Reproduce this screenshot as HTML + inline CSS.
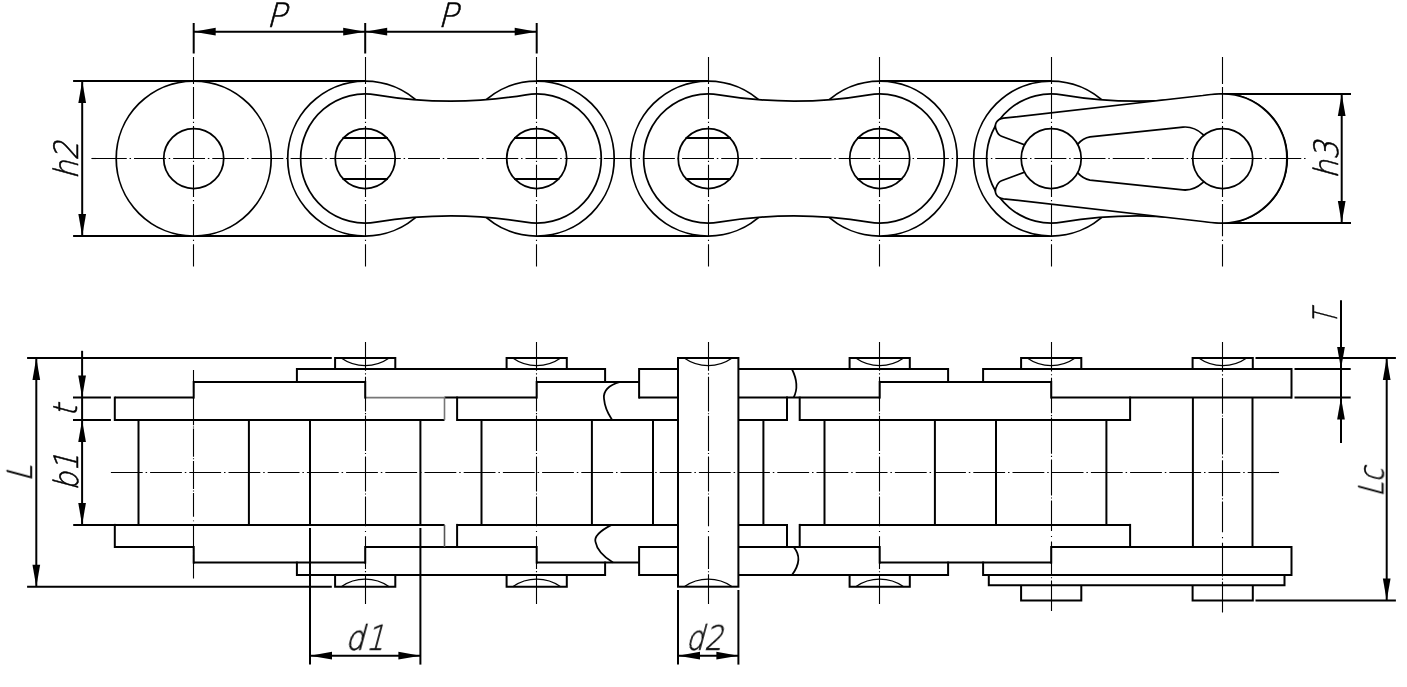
<!DOCTYPE html>
<html lang="en"><head><meta charset="utf-8"><title>Roller chain dimensions</title>
<style>
html,body{margin:0;padding:0;background:#fff;}
body{width:1407px;height:687px;overflow:hidden;font-family:"Liberation Sans",sans-serif;}
svg{display:block;}
</style></head><body>
<svg width="1407" height="687" viewBox="0 0 1407 687">
<rect width="1407" height="687" fill="#fff"/>
<g id="topview" stroke="#000" fill="none">
<line x1="73.1" y1="81" x2="365.2" y2="81" stroke-width="2.0" />
<line x1="73.1" y1="236" x2="365.2" y2="236" stroke-width="2.0" />
<line x1="536.7" y1="81" x2="708.2" y2="81" stroke-width="2.0" />
<line x1="536.7" y1="236" x2="708.2" y2="236" stroke-width="2.0" />
<line x1="879.7" y1="81" x2="1051.2" y2="81" stroke-width="2.0" />
<line x1="879.7" y1="236" x2="1051.2" y2="236" stroke-width="2.0" />
<line x1="1222.7" y1="94" x2="1351" y2="94" stroke-width="2.0" />
<line x1="1222.7" y1="223" x2="1351" y2="223" stroke-width="2.0" />
<circle cx="193.7" cy="158.5" r="77.5" stroke-width="1.75" fill="#fff"/>
<circle cx="193.7" cy="158.5" r="30" stroke-width="1.75" fill="#fff"/>
<circle cx="365.2" cy="158.5" r="77.5" stroke-width="1.75" fill="#fff"/>
<circle cx="536.7" cy="158.5" r="77.5" stroke-width="1.75" fill="#fff"/>
<circle cx="708.2" cy="158.5" r="77.5" stroke-width="1.75" fill="#fff"/>
<circle cx="879.7" cy="158.5" r="77.5" stroke-width="1.75" fill="#fff"/>
<circle cx="1051.2" cy="158.5" r="77.5" stroke-width="1.75" fill="#fff"/>
<path d="M375.97,94.8 A449.63,449.63 0 0 0 525.93,94.8 A64.6,64.6 0 1 1 525.93,222.2 A449.63,449.63 0 0 0 375.97,222.2 A64.6,64.6 0 1 1 375.97,94.8 Z" stroke-width="1.75" fill="#fff" />
<path d="M718.97,94.8 A449.63,449.63 0 0 0 868.93,94.8 A64.6,64.6 0 1 1 868.93,222.2 A449.63,449.63 0 0 0 718.97,222.2 A64.6,64.6 0 1 1 718.97,94.8 Z" stroke-width="1.75" fill="#fff" />
<path d="M1061.97,94.8 A449.63,449.63 0 0 0 1211.93,94.8 A64.6,64.6 0 1 1 1211.93,222.2 A449.63,449.63 0 0 0 1061.97,222.2 A64.6,64.6 0 1 1 1061.97,94.8 Z" stroke-width="1.75" fill="#fff" />
<circle cx="365.2" cy="158.5" r="30" stroke-width="1.75" fill="#fff"/>
<line x1="342.5" y1="138" x2="387.9" y2="138" stroke-width="2" />
<line x1="342.5" y1="179" x2="387.9" y2="179" stroke-width="2" />
<circle cx="536.7" cy="158.5" r="30" stroke-width="1.75" fill="#fff"/>
<line x1="514" y1="138" x2="559.4" y2="138" stroke-width="2" />
<line x1="514" y1="179" x2="559.4" y2="179" stroke-width="2" />
<circle cx="708.2" cy="158.5" r="30" stroke-width="1.75" fill="#fff"/>
<line x1="685.5" y1="138" x2="730.9" y2="138" stroke-width="2" />
<line x1="685.5" y1="179" x2="730.9" y2="179" stroke-width="2" />
<circle cx="879.7" cy="158.5" r="30" stroke-width="1.75" fill="#fff"/>
<line x1="857" y1="138" x2="902.4" y2="138" stroke-width="2" />
<line x1="857" y1="179" x2="902.4" y2="179" stroke-width="2" />
<path d="M1218.7,94 Q1210.7,94.2 1202.7,95.5 L1003.5,118.2 C996.5,119.2 993.8,124.5 996.3,130 C997.3,132.8 998.6,135.2 1001.5,136.3 L1030,146.8 L1072,147 L1077.6,144.3 C1080.5,141 1083.5,137.9 1090,136.9 L1183,127.1 C1191,126.4 1197,129 1202.8,134.3 L1208,140 L1208,177 L1202.8,182.7 C1197,188 1191,190.6 1183,189.9 L1090,180.1 C1083.5,179.1 1080.5,176 1077.6,172.7 L1072,170 L1030,170.2 L1001.5,180.7 C998.6,181.8 997.3,184.2 996.3,187 C993.8,192.5 996.5,197.8 1003.5,198.8 L1202.7,221.5 Q1210.7,222.8 1218.7,223 A64.6,64.6 0 1 0 1218.7,94 Z" stroke-width="1.75" fill="#fff" />
<circle cx="1051.2" cy="158.5" r="30" stroke-width="1.75" fill="#fff"/>
<circle cx="1222.7" cy="158.5" r="30" stroke-width="1.75" fill="#fff"/>
</g>
<g id="cl" stroke="#000" fill="none" stroke-width="1.1">
<line x1="91.4" y1="158.5" x2="96" y2="158.5"/>
<line x1="94.85" y1="158.5" x2="1307" y2="158.5" stroke-dasharray="31.9 2.8 1.5 2.95"/>
<path d="M193.5,57V84 M193.5,87.1V118.9 M193.5,121.8V123.1 M193.5,126V158.4 M193.5,160.7V162 M193.5,164.8V197.1 M193.5,200V201.3 M193.5,204.1V236.3 M193.5,239.8V241.1 M193.5,244.2V266.5"/>
<path d="M365.5,57V84 M365.5,87.1V118.9 M365.5,121.8V123.1 M365.5,126V158.4 M365.5,160.7V162 M365.5,164.8V197.1 M365.5,200V201.3 M365.5,204.1V236.3 M365.5,239.8V241.1 M365.5,244.2V266.5"/>
<path d="M536.5,57V84 M536.5,87.1V118.9 M536.5,121.8V123.1 M536.5,126V158.4 M536.5,160.7V162 M536.5,164.8V197.1 M536.5,200V201.3 M536.5,204.1V236.3 M536.5,239.8V241.1 M536.5,244.2V266.5"/>
<path d="M708.5,57V84 M708.5,87.1V118.9 M708.5,121.8V123.1 M708.5,126V158.4 M708.5,160.7V162 M708.5,164.8V197.1 M708.5,200V201.3 M708.5,204.1V236.3 M708.5,239.8V241.1 M708.5,244.2V266.5"/>
<path d="M879.5,57V84 M879.5,87.1V118.9 M879.5,121.8V123.1 M879.5,126V158.4 M879.5,160.7V162 M879.5,164.8V197.1 M879.5,200V201.3 M879.5,204.1V236.3 M879.5,239.8V241.1 M879.5,244.2V266.5"/>
<path d="M1051.5,57V84 M1051.5,87.1V118.9 M1051.5,121.8V123.1 M1051.5,126V158.4 M1051.5,160.7V162 M1051.5,164.8V197.1 M1051.5,200V201.3 M1051.5,204.1V236.3 M1051.5,239.8V241.1 M1051.5,244.2V266.5"/>
<path d="M1222.5,57V84 M1222.5,87.1V118.9 M1222.5,121.8V123.1 M1222.5,126V158.4 M1222.5,160.7V162 M1222.5,164.8V197.1 M1222.5,200V201.3 M1222.5,204.1V236.3 M1222.5,239.8V241.1 M1222.5,244.2V266.5"/>
</g>
<g id="dims" stroke="#000" fill="none">
<line x1="193.7" y1="23" x2="193.7" y2="53.5" stroke-width="2.0" />
<line x1="365.2" y1="23" x2="365.2" y2="53.5" stroke-width="2.0" />
<line x1="536.7" y1="23" x2="536.7" y2="53.5" stroke-width="2.0" />
<line x1="193.7" y1="31.7" x2="536.7" y2="31.7" stroke-width="2.0" />
<polygon points="193.7,31.7 215.7,27.85 215.7,35.55" fill="#000" stroke="none"/>
<polygon points="365.2,31.7 343.2,35.55 343.2,27.85" fill="#000" stroke="none"/>
<polygon points="365.2,31.7 387.2,27.85 387.2,35.55" fill="#000" stroke="none"/>
<polygon points="536.7,31.7 514.7,35.55 514.7,27.85" fill="#000" stroke="none"/>
<line x1="82.2" y1="81" x2="82.2" y2="236" stroke-width="2.0" />
<polygon points="82.2,81 86.05,103 78.35,103" fill="#000" stroke="none"/>
<polygon points="82.2,236 78.35,214 86.05,214" fill="#000" stroke="none"/>
<line x1="1341.7" y1="94" x2="1341.7" y2="223" stroke-width="2.0" />
<polygon points="1341.7,94 1345.55,116 1337.85,116" fill="#000" stroke="none"/>
<polygon points="1341.7,223 1337.85,201 1345.55,201" fill="#000" stroke="none"/>
</g>
<g id="bottom" stroke="#000" fill="none">
<path d="M335.1,369 V358 H395.3 V369" stroke-width="2.0" stroke-linejoin="miter"/>
<path d="M341.2,358 A41.7,41.7 0 0 0 389.2,358" stroke-width="1.3"/>
<path d="M335.1,575 V586.7 H395.3 V575" stroke-width="2.0" stroke-linejoin="miter"/>
<path d="M341.2,586.7 A41.7,41.7 0 0 1 389.2,586.7" stroke-width="1.3"/>
<path d="M506.6,369 V358 H566.8 V369" stroke-width="2.0" stroke-linejoin="miter"/>
<path d="M512.7,358 A41.7,41.7 0 0 0 560.7,358" stroke-width="1.3"/>
<path d="M506.6,575 V586.7 H566.8 V575" stroke-width="2.0" stroke-linejoin="miter"/>
<path d="M512.7,586.7 A41.7,41.7 0 0 1 560.7,586.7" stroke-width="1.3"/>
<path d="M849.6,369 V358 H909.8 V369" stroke-width="2.0" stroke-linejoin="miter"/>
<path d="M855.7,358 A41.7,41.7 0 0 0 903.7,358" stroke-width="1.3"/>
<path d="M849.6,575 V586.7 H909.8 V575" stroke-width="2.0" stroke-linejoin="miter"/>
<path d="M855.7,586.7 A41.7,41.7 0 0 1 903.7,586.7" stroke-width="1.3"/>
<path d="M1021.1,369 V358 H1081.3 V369" stroke-width="2.0" stroke-linejoin="miter"/>
<path d="M1027.2,358 A41.7,41.7 0 0 0 1075.2,358" stroke-width="1.3"/>
<path d="M1192.6,369 V358 H1252.8 V369" stroke-width="2.0" stroke-linejoin="miter"/>
<path d="M1198.7,358 A41.7,41.7 0 0 0 1246.7,358" stroke-width="1.3"/>
<rect x="678" y="358" width="60.4" height="228.70000000000005" stroke-width="2.0" fill="#fff"/>
<path d="M684.2,358 A41.7,41.7 0 0 0 732.2,358" stroke-width="1.3"/>
<path d="M684.2,586.7 A41.7,41.7 0 0 1 732.2,586.7" stroke-width="1.3"/>
<line x1="27.1" y1="358" x2="331.8" y2="358" stroke-width="2.0" />
<line x1="1255.5" y1="358" x2="1395.9" y2="358" stroke-width="2.0" />
<line x1="27.1" y1="586.7" x2="331.8" y2="586.7" stroke-width="2.0" />
<line x1="1255.5" y1="600.6" x2="1395.9" y2="600.6" stroke-width="2.0" />
<line x1="296.9" y1="369" x2="605.1" y2="369" stroke-width="2.0" />
<line x1="639.1" y1="369" x2="678" y2="369" stroke-width="2.0" />
<line x1="738.4" y1="369" x2="948.1" y2="369" stroke-width="2.0" />
<line x1="983.1" y1="369" x2="1291.5" y2="369" stroke-width="2.0" />
<line x1="1294.5" y1="369" x2="1350.7" y2="369" stroke-width="2.0" />
<line x1="296.9" y1="575" x2="605.1" y2="575" stroke-width="2.0" />
<line x1="639.1" y1="575" x2="678" y2="575" stroke-width="2.0" />
<line x1="738.4" y1="575" x2="948.1" y2="575" stroke-width="2.0" />
<line x1="983.1" y1="575" x2="1291.5" y2="575" stroke-width="2.0" />
<line x1="193.7" y1="381.9" x2="365.2" y2="381.9" stroke-width="2.0" />
<line x1="536.7" y1="381.9" x2="639.1" y2="381.9" stroke-width="2.0" />
<line x1="879.7" y1="381.9" x2="1051.2" y2="381.9" stroke-width="2.0" />
<line x1="193.7" y1="562.6" x2="365.2" y2="562.6" stroke-width="2.0" />
<line x1="536.7" y1="562.6" x2="639.1" y2="562.6" stroke-width="2.0" />
<line x1="879.7" y1="562.6" x2="1051.2" y2="562.6" stroke-width="2.0" />
<line x1="73" y1="397.6" x2="110.9" y2="397.6" stroke-width="2.0" />
<line x1="114.8" y1="397.6" x2="193.7" y2="397.6" stroke-width="2.0" />
<line x1="444.5" y1="397.6" x2="536.7" y2="397.6" stroke-width="2.0" />
<line x1="639.1" y1="397.6" x2="678" y2="397.6" stroke-width="2.0" />
<line x1="738.4" y1="397.6" x2="879.7" y2="397.6" stroke-width="2.0" />
<line x1="1051.2" y1="397.6" x2="1291.5" y2="397.6" stroke-width="2.0" />
<line x1="1294.5" y1="397.6" x2="1350.7" y2="397.6" stroke-width="2.0" />
<line x1="114.8" y1="547" x2="193.7" y2="547" stroke-width="2.0" />
<line x1="365.2" y1="547" x2="536.7" y2="547" stroke-width="2.0" />
<line x1="639.1" y1="547" x2="678" y2="547" stroke-width="2.0" />
<line x1="738.4" y1="547" x2="879.7" y2="547" stroke-width="2.0" />
<line x1="1051.2" y1="547" x2="1291.5" y2="547" stroke-width="2.0" />
<line x1="73" y1="420" x2="110.9" y2="420" stroke-width="2.0" />
<line x1="114.8" y1="420" x2="444.5" y2="420" stroke-width="2.0" />
<line x1="457.1" y1="420" x2="678" y2="420" stroke-width="2.0" />
<line x1="738.4" y1="420" x2="787" y2="420" stroke-width="2.0" />
<line x1="799.7" y1="420" x2="1130.1" y2="420" stroke-width="2.0" />
<line x1="73.2" y1="524.9" x2="444.5" y2="524.9" stroke-width="2.0" />
<line x1="457.1" y1="524.9" x2="678" y2="524.9" stroke-width="2.0" />
<line x1="738.4" y1="524.9" x2="787" y2="524.9" stroke-width="2.0" />
<line x1="799.7" y1="524.9" x2="1130.1" y2="524.9" stroke-width="2.0" />
<path d="M365.2,397.6 H444.5 V420" stroke="#777" stroke-width="1.6"/>
<path d="M444.5,524.9 V547" stroke="#555" stroke-width="1.6"/>
<line x1="114.8" y1="396.6" x2="114.8" y2="421" stroke-width="2.0" />
<line x1="114.8" y1="523.9" x2="114.8" y2="548" stroke-width="2.0" />
<line x1="193.7" y1="380.9" x2="193.7" y2="398.6" stroke-width="2.0" />
<line x1="193.7" y1="546" x2="193.7" y2="563.6" stroke-width="2.0" />
<line x1="296.9" y1="368" x2="296.9" y2="382.9" stroke-width="2.0" />
<line x1="296.9" y1="561.6" x2="296.9" y2="576" stroke-width="2.0" />
<line x1="365.2" y1="380.9" x2="365.2" y2="398.6" stroke-width="2.0" />
<line x1="365.2" y1="546" x2="365.2" y2="563.6" stroke-width="2.0" />
<line x1="457.1" y1="396.6" x2="457.1" y2="421" stroke-width="2.0" />
<line x1="457.1" y1="523.9" x2="457.1" y2="548" stroke-width="2.0" />
<line x1="536.7" y1="380.9" x2="536.7" y2="398.6" stroke-width="2.0" />
<line x1="536.7" y1="546" x2="536.7" y2="563.6" stroke-width="2.0" />
<line x1="605.1" y1="368" x2="605.1" y2="382.9" stroke-width="2.0" />
<line x1="605.1" y1="561.6" x2="605.1" y2="576" stroke-width="2.0" />
<line x1="639.1" y1="368" x2="639.1" y2="398.6" stroke-width="2.0" />
<line x1="639.1" y1="546" x2="639.1" y2="576" stroke-width="2.0" />
<line x1="787" y1="396.6" x2="787" y2="421" stroke-width="2.0" />
<line x1="787" y1="523.9" x2="787" y2="548" stroke-width="2.0" />
<line x1="799.7" y1="396.6" x2="799.7" y2="421" stroke-width="2.0" />
<line x1="799.7" y1="523.9" x2="799.7" y2="548" stroke-width="2.0" />
<line x1="879.7" y1="380.9" x2="879.7" y2="398.6" stroke-width="2.0" />
<line x1="879.7" y1="546" x2="879.7" y2="563.6" stroke-width="2.0" />
<line x1="948.1" y1="368" x2="948.1" y2="382.9" stroke-width="2.0" />
<line x1="948.1" y1="561.6" x2="948.1" y2="576" stroke-width="2.0" />
<line x1="983.1" y1="368" x2="983.1" y2="382.9" stroke-width="2.0" />
<line x1="983.1" y1="561.6" x2="983.1" y2="576" stroke-width="2.0" />
<line x1="1051.2" y1="380.9" x2="1051.2" y2="398.6" stroke-width="2.0" />
<line x1="1051.2" y1="546" x2="1051.2" y2="563.6" stroke-width="2.0" />
<line x1="1130.1" y1="396.6" x2="1130.1" y2="421" stroke-width="2.0" />
<line x1="1130.1" y1="523.9" x2="1130.1" y2="548" stroke-width="2.0" />
<line x1="1291.5" y1="368" x2="1291.5" y2="398.6" stroke-width="2.0" />
<line x1="1291.5" y1="546" x2="1291.5" y2="576" stroke-width="2.0" />
<line x1="138.5" y1="420" x2="138.5" y2="524.9" stroke-width="2.0" />
<line x1="248.9" y1="420" x2="248.9" y2="524.9" stroke-width="2.0" />
<line x1="310" y1="420" x2="310" y2="524.9" stroke-width="2.0" />
<line x1="420.4" y1="420" x2="420.4" y2="524.9" stroke-width="2.0" />
<line x1="481.5" y1="420" x2="481.5" y2="524.9" stroke-width="2.0" />
<line x1="591.9" y1="420" x2="591.9" y2="524.9" stroke-width="2.0" />
<line x1="653" y1="420" x2="653" y2="524.9" stroke-width="2.0" />
<line x1="763.4" y1="420" x2="763.4" y2="524.9" stroke-width="2.0" />
<line x1="824.5" y1="420" x2="824.5" y2="524.9" stroke-width="2.0" />
<line x1="934.9" y1="420" x2="934.9" y2="524.9" stroke-width="2.0" />
<line x1="996" y1="420" x2="996" y2="524.9" stroke-width="2.0" />
<line x1="1106.4" y1="420" x2="1106.4" y2="524.9" stroke-width="2.0" />
<line x1="1192.9" y1="397.6" x2="1192.9" y2="547" stroke-width="2.0" />
<line x1="1252.5" y1="397.6" x2="1252.5" y2="547" stroke-width="2.0" />
<path d="M988.8,575 V585.2 H1284.5 V575" stroke-width="2.0"/>
<path d="M1021.1,585.2 V600.6 H1081.3 V585.2" stroke-width="2.0"/>
<path d="M1192.6,585.2 V600.6 H1252.8 V585.2" stroke-width="2.0"/>
<path d="M620,381.9 C610,384.9 603,390.6 604,398.6 C605,410 609,415 612.3,420" stroke-width="1.75" fill="none" />
<path d="M611.5,524.9 C600,530.9 594,536.9 595.5,541.9 C597,550.6 605,557.6 613,562.6" stroke-width="1.75" fill="none" />
<path d="M791.9,369 Q800,385.3 793.6,397.6" stroke-width="1.75" fill="none" />
<path d="M793.6,547 Q804,559.0 791.9,575" stroke-width="1.75" fill="none" />
<line x1="310" y1="528" x2="310" y2="664.6" stroke-width="2.0" />
<line x1="420.4" y1="528" x2="420.4" y2="664.6" stroke-width="2.0" />
<line x1="678" y1="590" x2="678" y2="664.6" stroke-width="2.0" />
<line x1="738.4" y1="590" x2="738.4" y2="664.6" stroke-width="2.0" />
</g>
<g id="cl2" stroke="#000" fill="none" stroke-width="1.1">
<line x1="110.9" y1="472.5" x2="1279" y2="472.5" stroke-dasharray="31.8 2.9 1.5 3"/>
<path d="M193.5,370V392.79 M193.5,394.86V395.74 M193.5,397.65V425.3 M193.5,426.57V427.45 M193.5,428.56V456.69 M193.5,458.28V459.16 M193.5,461.07V488.96 M193.5,490.55V491.43 M193.5,492.94V516.69 M193.5,520.43V521.31 M193.5,524.74V550.79 M193.5,552.47V553.34 M193.5,554.94V578.6"/>
<path d="M365.5,342.1V370.7 M365.5,373.3V374.4 M365.5,376.8V411.5 M365.5,413.1V414.2 M365.5,415.6V450.9 M365.5,452.9V454 M365.5,456.4V491.4 M365.5,493.4V494.5 M365.5,496.4V526.2 M365.5,530.9V532 M365.5,536.3V569 M365.5,571.1V572.2 M365.5,574.2V603.9"/>
<path d="M536.5,342.1V370.7 M536.5,373.3V374.4 M536.5,376.8V411.5 M536.5,413.1V414.2 M536.5,415.6V450.9 M536.5,452.9V454 M536.5,456.4V491.4 M536.5,493.4V494.5 M536.5,496.4V526.2 M536.5,530.9V532 M536.5,536.3V569 M536.5,571.1V572.2 M536.5,574.2V603.9"/>
<path d="M708.5,342.1V370.71 M708.5,373.31V374.41 M708.5,376.81V411.53 M708.5,413.13V414.23 M708.5,415.63V450.94 M708.5,452.94V454.04 M708.5,456.44V491.46 M708.5,493.46V494.56 M708.5,496.46V526.27 M708.5,530.97V532.07 M708.5,536.37V569.09 M708.5,571.19V572.29 M708.5,574.29V604"/>
<path d="M879.5,342.1V370.71 M879.5,373.31V374.41 M879.5,376.81V411.53 M879.5,413.13V414.23 M879.5,415.63V450.94 M879.5,452.94V454.04 M879.5,456.44V491.46 M879.5,493.46V494.56 M879.5,496.46V526.27 M879.5,530.97V532.07 M879.5,536.37V569.09 M879.5,571.19V572.29 M879.5,574.29V604"/>
<path d="M1051.5,342.1V371.46 M1051.5,374.13V375.26 M1051.5,377.73V413.36 M1051.5,415V416.13 M1051.5,417.57V453.81 M1051.5,455.86V456.99 M1051.5,459.46V495.39 M1051.5,497.45V498.57 M1051.5,500.53V531.12 M1051.5,535.95V537.08 M1051.5,541.49V575.07 M1051.5,577.22V578.35 M1051.5,580.41V610.9"/>
<path d="M1222.5,342.1V371.64 M1222.5,374.32V375.46 M1222.5,377.94V413.78 M1222.5,415.43V416.57 M1222.5,418.01V454.47 M1222.5,456.54V457.68 M1222.5,460.15V496.3 M1222.5,498.37V499.51 M1222.5,501.47V532.25 M1222.5,537.1V538.24 M1222.5,542.68V576.45 M1222.5,578.62V579.76 M1222.5,581.82V612.5"/>
</g>
<g id="dims2" stroke="#000" fill="none">
<line x1="36.3" y1="358" x2="36.3" y2="586.7" stroke-width="2.0" />
<polygon points="36.3,358 40.15,380 32.45,380" fill="#000" stroke="none"/>
<polygon points="36.3,586.7 32.45,564.7 40.15,564.7" fill="#000" stroke="none"/>
<line x1="82.1" y1="350.8" x2="82.1" y2="524.9" stroke-width="2.0" />
<polygon points="82.1,397.6 78.25,375.6 85.95,375.6" fill="#000" stroke="none"/>
<polygon points="82.1,420 85.95,442 78.25,442" fill="#000" stroke="none"/>
<polygon points="82.1,524.9 78.25,502.9 85.95,502.9" fill="#000" stroke="none"/>
<line x1="1341" y1="300.3" x2="1341" y2="443.1" stroke-width="2.0" />
<polygon points="1341,369 1337.15,347 1344.85,347" fill="#000" stroke="none"/>
<polygon points="1341,397.6 1344.85,419.6 1337.15,419.6" fill="#000" stroke="none"/>
<line x1="1386.7" y1="358" x2="1386.7" y2="600.6" stroke-width="2.0" />
<polygon points="1386.7,358 1390.55,380 1382.85,380" fill="#000" stroke="none"/>
<polygon points="1386.7,600.6 1382.85,578.6 1390.55,578.6" fill="#000" stroke="none"/>
<line x1="310" y1="655.7" x2="420.4" y2="655.7" stroke-width="2.0" />
<polygon points="310,655.7 332,651.85 332,659.55" fill="#000" stroke="none"/>
<polygon points="420.4,655.7 398.4,659.55 398.4,651.85" fill="#000" stroke="none"/>
<line x1="678" y1="655.7" x2="738.4" y2="655.7" stroke-width="2.0" />
<polygon points="678,655.7 700,651.85 700,659.55" fill="#000" stroke="none"/>
<polygon points="738.4,655.7 716.4,659.55 716.4,651.85" fill="#000" stroke="none"/>
</g>
<g id="labels" opacity="0.999" fill="#000" stroke="#000" stroke-width="0.55" stroke-linejoin="round" font-family="'DejaVu Sans Light', 'DejaVu Sans', 'Liberation Sans', sans-serif" font-weight="200" font-size="33.5">
<text transform="translate(266,27) rotate(0) skewX(-15) scale(1.0,1)" letter-spacing="0">P</text>
<text transform="translate(437.5,27) rotate(0) skewX(-15) scale(1.0,1)" letter-spacing="0">P</text>
<text transform="translate(77.5,179.5) rotate(-90) skewX(-15) scale(0.88,1)" letter-spacing="0">h2</text>
<text transform="translate(1337.5,179) rotate(-90) skewX(-15) scale(0.88,1)" letter-spacing="0">h3</text>
<text transform="translate(1336.5,325) rotate(-90) skewX(-15) scale(0.68,1)" letter-spacing="0">T</text>
<text transform="translate(77,417) rotate(-90) skewX(-15) scale(0.88,1)" letter-spacing="0">t</text>
<text transform="translate(78,491) rotate(-90) skewX(-15) scale(0.88,1)" letter-spacing="0">b1</text>
<text transform="translate(32,482) rotate(-90) skewX(-15) scale(0.88,1)" letter-spacing="0">L</text>
<text transform="translate(1383.5,497) rotate(-90) skewX(-15) scale(0.78,1)" letter-spacing="0">Lc</text>
<text transform="translate(345,650) rotate(0) skewX(-15) scale(0.88,1)" letter-spacing="2">d1</text>
<text transform="translate(685.5,650) rotate(0) skewX(-15) scale(0.85,1)" letter-spacing="0.5">d2</text>
</g>
</svg>
</body></html>
